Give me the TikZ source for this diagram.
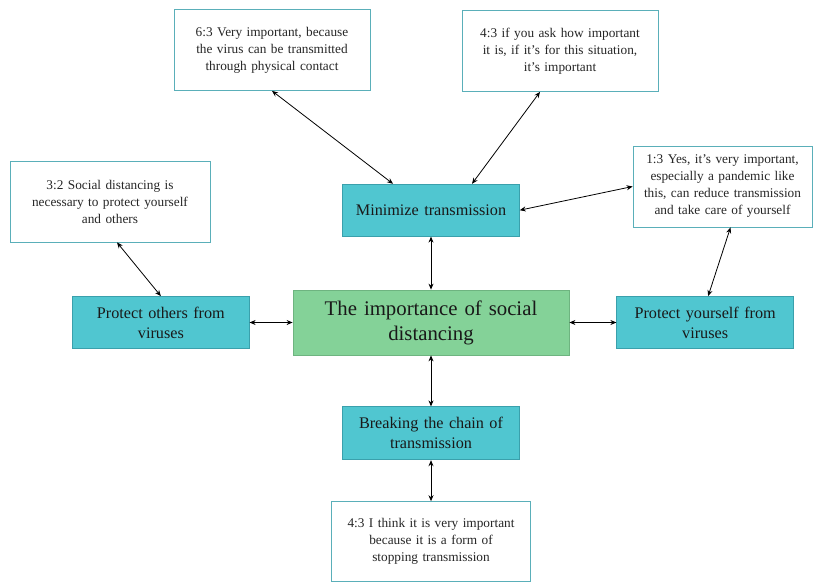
\documentclass[tikz,border=0pt]{standalone}
\usepackage{fontspec}
\setmainfont{Liberation Serif}
\usetikzlibrary{arrows.meta, positioning}

\definecolor{tealfill}{RGB}{80,198,208}
\definecolor{tealline}{RGB}{58,160,172}
\definecolor{hubfill}{RGB}{132,210,152}
\definecolor{hubline}{RGB}{110,180,128}
\definecolor{quoteline}{RGB}{90,175,185}

\begin{document}
\begin{tikzpicture}[
    x=1pt, y=1pt,
    node distance=50pt,
    >={Stealth[length=6pt, width=5pt]},
    hub/.style={
        rectangle, draw=hubline, line width=0.8pt, fill=hubfill,
        minimum width=276pt, minimum height=65pt,
        text width=260pt, align=center,
        font=\fontsize{20.8}{25}\selectfont, text=black!90
    },
    theme/.style={
        rectangle, draw=tealline, line width=0.8pt, fill=tealfill,
        minimum width=176pt, minimum height=52pt,
        text width=170pt, align=center,
        font=\fontsize{16.2}{20}\selectfont, text=black!90
    },
    quote/.style={
        rectangle, draw=quoteline, line width=0.8pt, fill=white,
        minimum width=#1, minimum height=81pt, inner sep=2pt,
        text width=172pt, align=center,
        font=\fontsize{13.3}{17}\selectfont, text=black!85
    },
    quote/.default={196pt},
    link/.style={
        <->, line width=0.8pt, black
    }
]
\useasboundingbox (0,0) rectangle (818,-583);

% -- centre --
\node[hub] (hub) at (431,-322.5) {The importance of social\\distancing};

% -- themes --
\node[theme, above=53pt of hub] (minimize) {Minimize transmission};
\node[theme, left=43pt of hub] (others) {Protect others from\\viruses};
\node[theme, right=47pt of hub] (yourself) {Protect yourself from\\viruses};
\node[theme, below=51pt of hub, minimum height=53pt] (breaking) {Breaking the chain of\\transmission};

% -- quotes --
\node[quote] (q63) at (272,-50) {6:3 Very important, because\\the virus can be transmitted\\through physical contact};
\node[quote] (q43a) at (560,-51) {4:3 if you ask how important\\it is, if it's for this situation,\\it's important};
\node[quote=179pt] (q13) at (722.5,-186.5) {1:3 Yes, it's very important,\\especially a pandemic like\\this, can reduce transmission\\and take care of yourself};
\node[quote=200pt] (q32) at (110,-201.5) {3:2 Social distancing is\\necessary to protect yourself\\and others};
\node[quote=199pt, below=41pt of breaking, minimum height=80pt] (q43b) {4:3 I think it is very important\\because it is a form of\\stopping transmission};

% -- links --
\draw[link] (hub.north) -- (minimize.south);
\draw[link] (hub.west) -- (others.east);
\draw[link] (hub.east) -- (yourself.west);
\draw[link] (hub.south) -- (breaking.north);
\draw[link] (breaking.south) -- (q43b.north);
\draw[link] (q63.south) -- ([xshift=-38pt]minimize.north);
\draw[link] ([xshift=-20pt]q43a.south) -- ([xshift=41pt]minimize.north);
\draw[link] (q13.west) -- (minimize.east);
\draw[link] ([xshift=8pt]q13.south) -- ([xshift=3pt]yourself.north);
\draw[link] ([xshift=7pt]q32.south) -- (others.north);

\end{tikzpicture}
\end{document}
